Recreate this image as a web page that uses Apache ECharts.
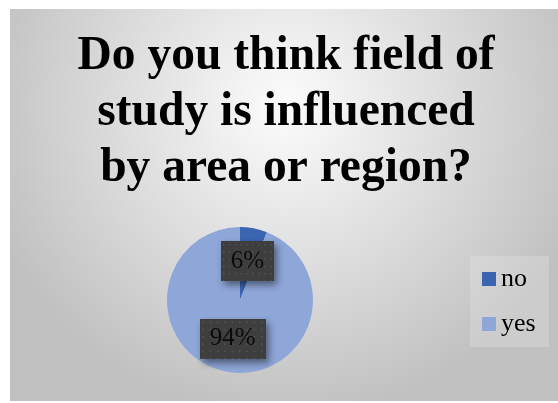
<!DOCTYPE html>
<html>
<head>
<meta charset="utf-8">
<script src="https://cdn.jsdelivr.net/npm/echarts@6/dist/echarts.min.js"></script>
<style>
  html, body { margin: 0; padding: 0; background: #fff; }
  #chart { width: 558px; height: 403px; }
</style>
</head>
<body>
<div id="chart"></div>
<script>
const titleText = 'Do you think field of\nstudy is influenced\nby area or region?';
const categories = ['no', 'yes'];
const percents = [6, 94];
const colors = ['#3b65b0', '#8ea6d8'];

const serif = '"Liberation Serif", "Times New Roman", serif';

// dotted dark fill for the data label boxes
function makeLabelFill() {
  const c = document.createElement('canvas');
  c.width = 72; c.height = 44;
  const ctx = c.getContext('2d');
  ctx.fillStyle = '#3e3e3e';
  ctx.fillRect(0, 0, c.width, c.height);
  ctx.fillStyle = 'rgba(120,120,120,0.55)';
  for (let y = 3; y < c.height; y += 8) {
    for (let x = 3; x < c.width; x += 8) {
      ctx.fillRect(x, y, 1.5, 1.5);
    }
  }
  return c;
}
const labelFill = makeLabelFill();

const chart = echarts.init(document.getElementById('chart'));

chart.setOption({
  backgroundColor: '#ffffff',
  animation: false,
  graphic: [
    {
      type: 'rect',
      z: -10,
      silent: true,
      shape: { x: 10, y: 9, width: 548, height: 392 },
      style: {
        fill: {
          type: 'radial', x: 0.5, y: 0.25, r: 0.8,
          colorStops: [
            { offset: 0, color: '#fcfcfc' },
            { offset: 1, color: '#c0c0c0' }
          ]
        }
      }
    },
    {
      // legend panel
      type: 'rect',
      z: -5,
      silent: true,
      shape: { x: 470, y: 256, width: 79, height: 91 },
      style: { fill: 'rgba(240,240,240,0.25)' }
    }
  ],
  title: {
    text: titleText,
    left: 286,
    textAlign: 'center',
    top: 29,
    padding: 0,
    textStyle: {
      fontFamily: serif,
      fontWeight: 'bold',
      fontSize: 47.5,
      lineHeight: 56,
      color: '#000'
    }
  },
  legend: {
    orient: 'vertical',
    left: 482,
    top: 266,
    padding: 0,
    itemWidth: 14,
    itemHeight: 14,
    itemGap: 19,
    icon: 'rect',
    data: categories,
    textStyle: { fontFamily: serif, fontSize: 26, color: '#000' }
  },
  series: [
    {
      type: 'pie',
      center: [240, 300],
      radius: 73,
      startAngle: 90,
      clockwise: true,
      data: categories.map((name, i) => ({
        name: name,
        value: percents[i],
        itemStyle: { color: colors[i] }
      })),
      label: {
        show: true,
        position: 'inside',
        formatter: '{c}%',
        fontFamily: serif,
        fontSize: 25,
        color: '#0a0a0a',
        backgroundColor: { image: labelFill },
        padding: [8, 10, 7, 10],
        shadowColor: 'rgba(0,0,0,0.45)',
        shadowBlur: 7,
        shadowOffsetX: 3,
        shadowOffsetY: 4
      },
      labelLine: { show: false },
      emphasis: { disabled: true }
    }
  ]
});
</script>
</body>
</html>
